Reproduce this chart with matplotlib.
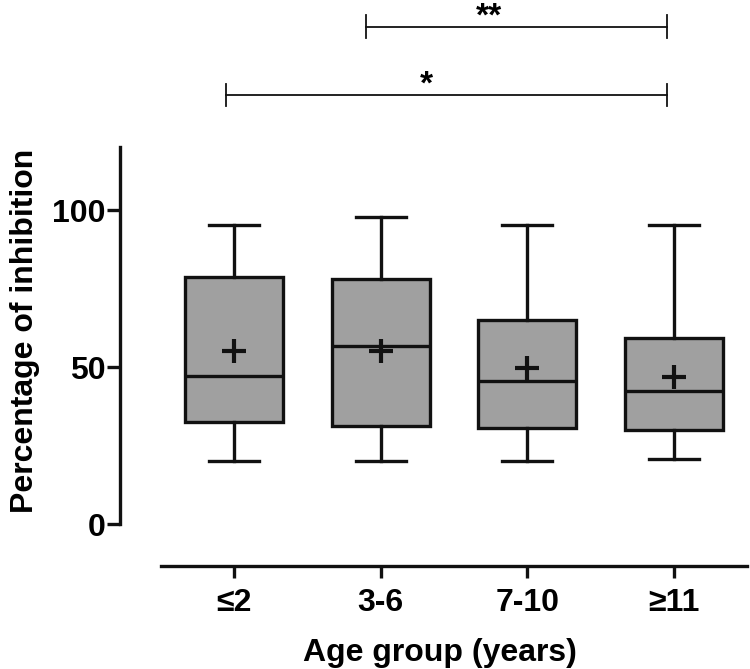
import matplotlib
matplotlib.use("Agg")
import matplotlib.pyplot as plt

plt.rcParams['font.family'] = ['Liberation Sans', 'DejaVu Sans']
plt.rcParams['font.weight'] = 'bold'

# data
groups = ["≤2", "3-6", "7-10", "≥11"]
whisk_lo = [20.1, 20.1, 20.1, 20.7]
q1 = [32.4, 31.2, 30.7, 29.9]
median = [47.2, 56.7, 45.5, 42.5]
q3 = [78.8, 78.2, 65.0, 59.3]
whisk_hi = [95.4, 97.7, 95.2, 95.4]
means = [55.1, 55.1, 49.8, 46.7]

# significance brackets: (left, right, height, label)
sig_left = [-0.055, 0.902]
sig_right = [2.953, 2.953]
sig_y = [136.6, 158.4]
sig_text = ["*", "**"]
sig_text_x = [1.31, 1.74]

fig = plt.figure(figsize=(7.5, 6.69), dpi=100)
ax = fig.add_axes([0.16, 0.1547, 0.836, 0.6251])

stats = []
for i in range(len(groups)):
    stats.append(dict(whislo=whisk_lo[i], q1=q1[i], med=median[i], q3=q3[i],
                      whishi=whisk_hi[i], mean=means[i], label=groups[i]))

lw = 2.4
ax.bxp(stats, positions=range(len(groups)), widths=0.667, showmeans=True,
       showfliers=False, patch_artist=True, capwidths=0.34,
       boxprops=dict(facecolor='#a0a0a0', edgecolor='#111111', linewidth=lw),
       medianprops=dict(color='#111111', linewidth=lw),
       whiskerprops=dict(color='#111111', linewidth=lw),
       capprops=dict(color='#111111', linewidth=lw),
       meanprops=dict(marker='+', markersize=17, markeredgewidth=3,
                      markeredgecolor='#111111'))

ax.set_xlim(-0.78, 3.5)
ax.set_ylim(-13.2, 120)
ax.spines['top'].set_visible(False)
ax.spines['right'].set_visible(False)
ax.spines['left'].set_bounds(0, 120)
ax.spines['bottom'].set_bounds(-0.5, 3.5)
for s in ['left', 'bottom']:
    ax.spines[s].set_linewidth(lw)
    ax.spines[s].set_color('#111111')
ax.set_yticks([0, 50, 100])
ax.tick_params(axis='y', length=9.5, width=lw, labelsize=23, pad=1, color='#111111')
ax.tick_params(axis='x', length=8.5, width=lw, labelsize=23, pad=8, color='#111111')
for t in ax.get_xticklabels() + ax.get_yticklabels():
    t.set_fontweight('bold')
ax.set_ylabel("Percentage of inhibition", fontsize=23, fontweight='bold')
ax.yaxis.set_label_coords(-0.128, 0.562)
ax.set_xlabel("Age group (years)", fontsize=23, fontweight='bold')
ax.xaxis.set_label_coords(0.51, -0.173)

for i in range(len(sig_y)):
    x0, x1, y = sig_left[i], sig_right[i], sig_y[i]
    ax.plot([x0, x1], [y, y], color='#111111', lw=1.3, clip_on=False)
    for xx in (x0, x1):
        ax.plot([xx, xx], [y - 3.6, y + 3.6], color='#111111', lw=1.3, clip_on=False)
    ax.text(sig_text_x[i], y + 0.4, sig_text[i], ha='center', va='baseline',
            fontsize=24, fontweight='bold', clip_on=False)

fig.savefig("out.png", dpi=100)
